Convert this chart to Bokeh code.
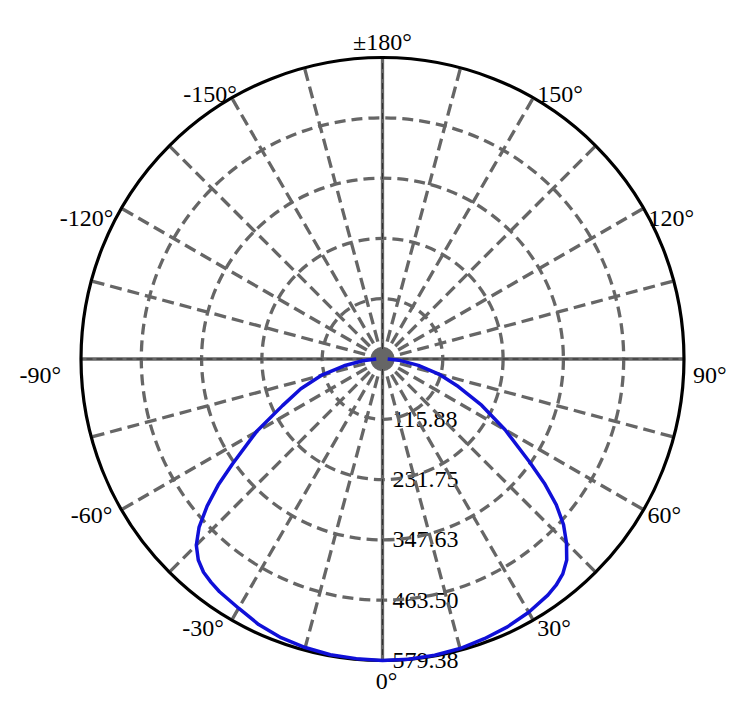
import numpy as np
from bokeh.plotting import figure
from bokeh.models import Range1d
from bokeh.core.properties import value
from bokeh.embed import file_html
from bokeh.resources import INLINE

# ---- data ----
angles_deg = [-90, -85, -80, -75, -70, -65, -60, -55, -52.5, -50, -47.5, -45, -42.5, -40, -37.5, -35,
              -30, -25, -20, -15, -10, -5,
              0, 5, 10, 15, 20, 25, 30, 35, 37.5, 40, 42.5, 45, 47.5, 50, 52.5, 55,
              60, 65, 70, 75, 80, 85, 90]
intensity = [12, 38, 75, 122, 167, 212, 280, 352, 398, 440, 478, 506, 524, 535, 541, 546,
             553, 563, 570, 574, 577, 578,
             579.38, 579, 578, 576, 572, 568, 562, 554, 548, 539, 524, 500, 472, 436, 392, 345,
             272, 210, 155, 112, 70, 35, 10]
ring_values = [115.88, 231.75, 347.63, 463.50, 579.38]
ring_labels = ["115.88", "231.75", "347.63", "463.50", "579.38"]
spoke_angles = list(range(0, 360, 15))
angle_label_angles = [0, 30, 60, 90, 120, 150, 180, -150, -120, -90, -60, -30]
angle_labels = ["0°", "30°", "60°", "90°", "120°", "150°", "±180°", "-150°", "-120°", "-90°", "-60°", "-30°"]

# label style (screen offsets, px)
lab_align = ["center", "left", "left", "left", "left", "left", "center", "right", "right", "right", "right", "right"]
lab_dx = [4, 4, 4, 9, 5, 4, 0, 5, -8, -20, -9, -8]
lab_dy = [20, 8, 5, 16, 10, -4, -16, -4, 10, 16, 5, 8]

R = ring_values[-1]
W, H = 740, 697
cx_pg, cy_pg, R_px = 382.0, 358.5, 301.5
s = R_px / R  # px per unit

p = figure(width=W, height=H, output_backend="svg", toolbar_location=None,
           x_range=Range1d((0 - cx_pg) / s, (W - cx_pg) / s),
           y_range=Range1d((cy_pg - H) / s, (cy_pg - 0) / s),
           min_border=0, background_fill_color="white", border_fill_color="white")
p.outline_line_color = None
p.axis.visible = False
p.grid.visible = False

def polar(r, a_deg):
    a = np.radians(np.asarray(a_deg, dtype=float))
    r = np.asarray(r, dtype=float)
    return r * np.sin(a), -r * np.cos(a)

font = value("Liberation Serif")
fs = "24px"

# angle labels
lx, ly = polar([R] * len(angle_label_angles), angle_label_angles)
for i in range(len(angle_labels)):
    p.text(x=[lx[i]], y=[ly[i]], text=[angle_labels[i]], text_font=font, text_font_size=fs,
           text_color="black", text_align=lab_align[i], text_baseline="middle",
           x_offset=lab_dx[i], y_offset=lab_dy[i])

# radial labels
rx, ry = polar(ring_values, [0] * len(ring_values))
p.text(x=rx, y=ry, text=ring_labels, text_font=font, text_font_size=fs, text_color="black",
       text_align="left", text_baseline="middle", x_offset=10, y_offset=0)

grid_col = "#666666"
# rings
p.circle(x=[0] * 4, y=[0] * 4, radius=ring_values[:-1], fill_color=None, line_color=grid_col,
         line_width=3.3, line_dash="11 6")
# spokes
main = [a for a in spoke_angles if a % 90 == 0]
other = [a for a in spoke_angles if a % 90 != 0]
ox, oy = polar([R] * len(other), other)
p.segment(x0=[0] * len(other), y0=[0] * len(other), x1=ox, y1=oy, line_color=grid_col,
          line_width=3.3, line_dash="12 6")
mx, my = polar([R] * len(main), main)
p.segment(x0=[0] * len(main), y0=[0] * len(main), x1=mx, y1=my, line_color=grid_col, line_width=3.3)
p.segment(x0=[0] * len(main), y0=[0] * len(main), x1=mx, y1=my, line_color="#222222",
          line_width=0.8, line_dash="6 4")
# center dot
p.scatter(x=[0], y=[0], size=19, marker="circle", fill_color=grid_col, line_color=None)

# outer circle
p.circle(x=[0], y=[0], radius=[R], fill_color=None, line_color="black", line_width=3.2)

# curve
cx_, cy_ = polar(intensity, angles_deg)
p.line(x=cx_, y=cy_, line_color="#1010D8", line_width=3.5, line_join="round")

open("out.html", "w").write(file_html(p, INLINE))
